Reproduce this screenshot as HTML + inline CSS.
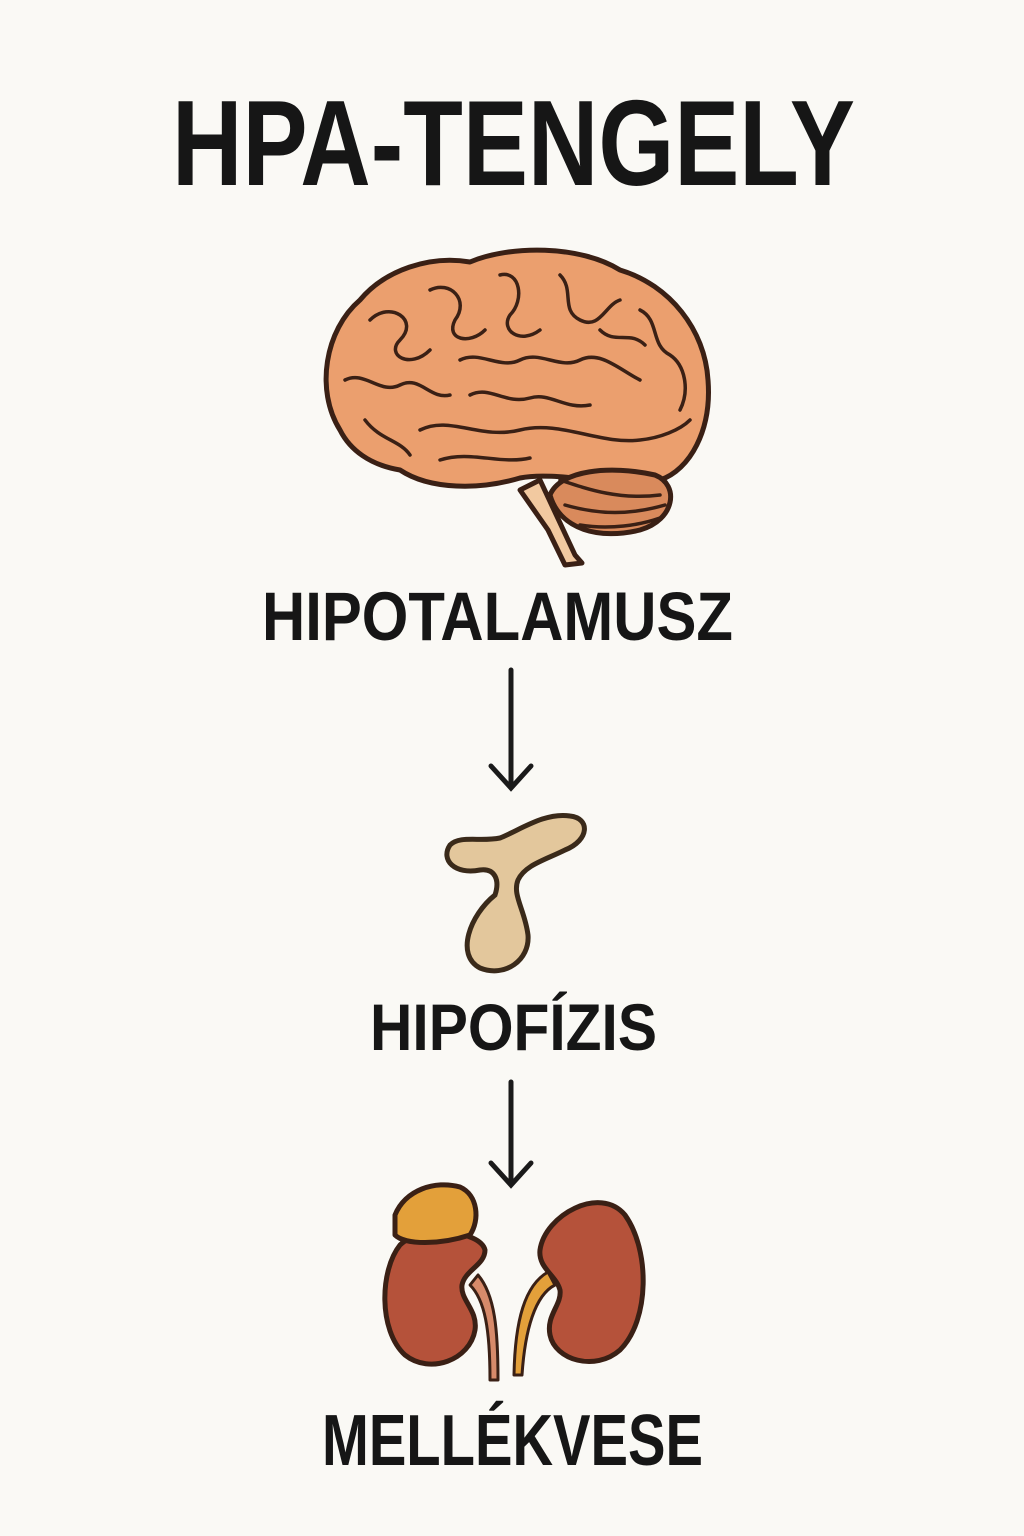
<!DOCTYPE html>
<html><head><meta charset="utf-8"><style>
html,body{margin:0;padding:0;background:#faf9f5;}
svg{display:block}
</style></head><body>
<svg width="1024" height="1536" viewBox="0 0 1024 1536" xmlns="http://www.w3.org/2000/svg">
<rect width="1024" height="1536" fill="#faf9f5"/>
<g font-family="Liberation Sans, sans-serif" font-weight="bold" fill="#161616">
<text x="172" y="185" font-size="122" textLength="683" lengthAdjust="spacingAndGlyphs">HPA-TENGELY</text>
<text x="262" y="640" font-size="69" textLength="471" lengthAdjust="spacingAndGlyphs">HIPOTALAMUSZ</text>
<text x="370" y="1050" font-size="66" textLength="287" lengthAdjust="spacingAndGlyphs">HIPOFÍZIS</text>
<text x="322" y="1465" font-size="72" textLength="381" lengthAdjust="spacingAndGlyphs">MELLÉKVESE</text>
</g>
<!-- arrows -->
<g stroke="#1a1a1a" stroke-width="5" fill="none" stroke-linecap="round">
<line x1="511" y1="670" x2="511" y2="786"/>
<polyline points="491,766 511,788 531,766"/>
<line x1="511" y1="1082" x2="511" y2="1183"/>
<polyline points="491,1163 511,1185 531,1163"/>
</g>
<!-- brain -->
<g stroke="#3a2015" stroke-width="5" stroke-linejoin="round" stroke-linecap="round">
<path d="M540,480 L575,555 L582,563 L565,565 L548,530 L520,490 Z" fill="#f2c9a0"/>
<path d="M340,430 C315,390 325,330 360,300 C385,270 430,255 470,262 C510,245 580,245 620,270 C670,285 705,330 708,380 C712,430 690,470 660,480 C620,490 560,470 520,478 C480,490 430,490 400,470 C370,465 350,450 340,430 Z" fill="#eb9f6e"/>
<path d="M550,495 C560,470 610,465 655,475 C680,485 675,520 640,530 C600,540 560,530 550,495 Z" fill="#d98a5c"/>
<g fill="none" stroke-width="3.5">
<path d="M370,320 C390,300 420,320 400,340 C385,355 410,370 430,350"/>
<path d="M430,290 C450,280 470,300 455,320 C445,340 470,345 485,330"/>
<path d="M500,275 C520,270 525,300 510,315 C500,330 520,345 540,330"/>
<path d="M560,275 C575,290 560,310 580,320 C600,330 605,305 620,300"/>
<path d="M640,310 C660,320 650,345 670,355 C685,365 690,390 680,410"/>
<path d="M345,380 C365,370 380,395 400,385 C420,375 430,400 450,395"/>
<path d="M460,360 C480,350 500,370 520,360 C540,350 560,370 580,360 C600,350 620,370 640,380"/>
<path d="M420,430 C450,415 480,440 520,430 C560,420 600,445 640,440 C660,438 680,430 690,420"/>
<path d="M365,420 C380,440 400,440 410,455"/>
<path d="M470,395 C490,385 505,405 530,398 C550,392 565,410 590,405"/>
<path d="M600,330 C615,345 630,330 645,345"/>
<path d="M440,460 C470,450 500,465 530,458"/>
<path d="M560,480 C590,490 620,500 660,495"/>
<path d="M565,505 C600,515 630,515 665,505"/>
<path d="M580,525 C610,530 640,525 660,518"/>
</g>
</g>
<!-- pituitary -->
<path d="M450,845 C440,860 455,875 480,870 C495,868 500,880 495,895 C470,915 455,955 480,968 C505,978 530,960 528,935 C525,910 512,895 518,880 C525,865 545,860 565,850 C590,840 590,818 570,816 C545,812 520,830 500,838 C480,842 460,835 450,845 Z" fill="#e3c79c" stroke="#3a2a1a" stroke-width="5"/>
<!-- kidneys -->
<g stroke="#3a2015" stroke-width="5" stroke-linejoin="round">
<path d="M400,1245 C380,1270 378,1330 405,1355 C430,1375 470,1360 475,1330 C478,1310 460,1300 462,1285 C465,1270 485,1265 485,1250 C480,1230 420,1225 400,1245 Z" fill="#b5523a"/>
<path d="M395,1215 C405,1190 435,1180 460,1187 C478,1195 480,1220 470,1235 C440,1245 405,1245 395,1235 Z" fill="#e3a03a"/>
<path d="M625,1215 C650,1250 650,1320 620,1350 C595,1372 555,1360 550,1335 C546,1315 562,1305 560,1290 C556,1275 538,1268 540,1250 C545,1215 600,1185 625,1215 Z" fill="#b5523a"/>
<path d="M470,1285 C485,1300 490,1330 490,1380 L498,1380 C498,1330 495,1295 478,1275 Z" fill="#d78a6a" stroke-width="3"/>
<path d="M555,1285 C535,1295 525,1330 522,1375 L514,1375 C515,1320 525,1285 548,1272 Z" fill="#e3a03a" stroke-width="3"/>
</g>
</svg>
</body></html>
